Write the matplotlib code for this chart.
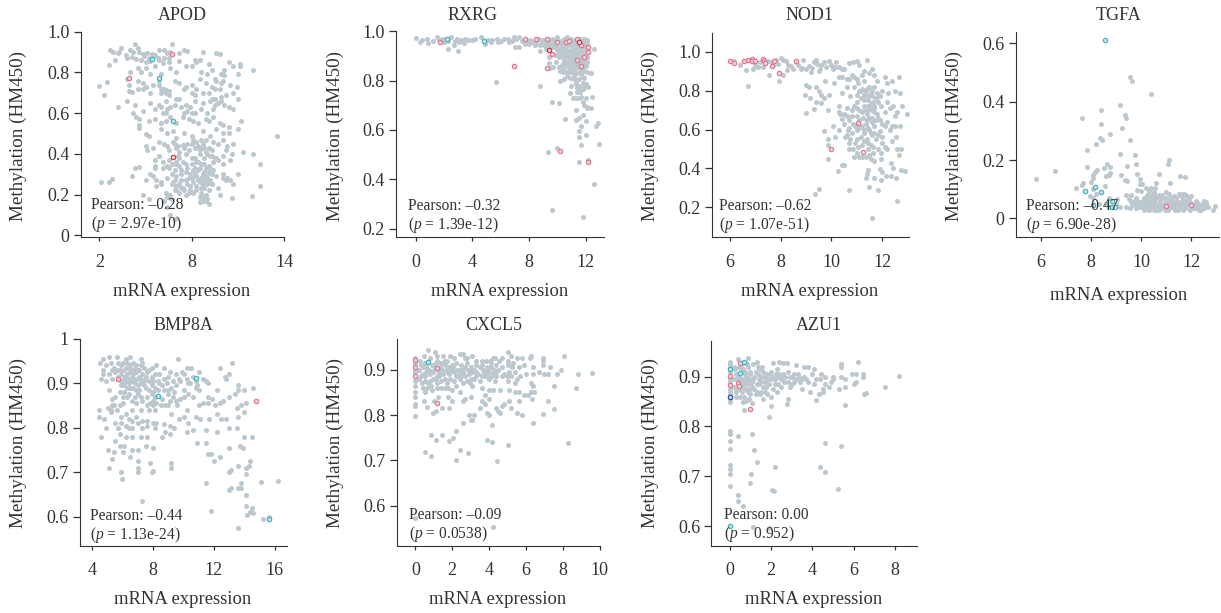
import matplotlib
matplotlib.use("Agg")
import matplotlib.pyplot as plt

plt.rcParams['font.family'] = ['Liberation Serif', 'DejaVu Serif']
plt.rcParams['mathtext.fontset'] = 'custom'
plt.rcParams['mathtext.rm'] = 'Liberation Serif'
plt.rcParams['mathtext.it'] = 'Liberation Serif:italic'

GRAY = '#bcc7ce'
PINK = '#e9708c'
CYAN = '#2fb6c4'
RED = '#e3202e'
NAVY = '#1f4796'
INK = '#333333'

# values
apod_gray = [(4.3,.94),(6.7,.94),(3.4,.92),(3.3,.90),(2.7,.91),(2.9,.90),(3.2,.895),(3.7,.885),(4.0,.91),(4.5,.92),(4.2,.90),(4.6,.90),(4.8,.89),(5.1,.895),(5.4,.89),(5.6,.885),(5.9,.91),(6.2,.91),(6.4,.895),(6.5,.87),(7.2,.895),(7.5,.91),(7.7,.905),(8.7,.90),(9.6,.895),(9.8,.89),
(3.0,.86),(3.8,.87),(4.4,.865),(4.7,.86),(5.0,.85),(5.3,.855),(5.9,.86),(6.1,.845),(6.5,.85),(7.2,.855),(8.2,.86),(8.5,.86),(2.6,.835),(4.0,.80),(4.5,.82),(4.7,.80),(5.0,.82),(5.3,.79),(5.6,.83),(6.0,.79),(6.6,.82),(7.0,.80),(7.6,.83),(8.0,.83),(8.3,.85),(8.6,.80),(9.1,.84),(9.3,.81),(9.9,.79),(10.1,.81),(10.4,.85),(10.7,.83),(11.1,.84),(11.1,.83),(12.0,.81),(11.0,.79),(10.1,.785),(9.5,.77),(9.0,.79),
(2.5,.755),(2.0,.735),(3.8,.77),(3.9,.74),(4.5,.76),(4.8,.75),(5.0,.73),(5.5,.74),(5.9,.76),(6.2,.72),(6.5,.71),(6.9,.76),(7.2,.75),(7.6,.73),(8.0,.74),(8.5,.77),(8.9,.75),(9.3,.73),(9.6,.76),(10.0,.76),(10.5,.74),(10.9,.73),(2.3,.69),(3.9,.71),(4.1,.705),(4.5,.72),(4.8,.72),(5.3,.70),(6.0,.70),(6.3,.715),(6.5,.69),(7.5,.72),(8.0,.70),(8.2,.69),(8.7,.70),(9.1,.70),(9.5,.67),(9.9,.68),(10.2,.69),(10.7,.70),(11.0,.67),
(3.2,.63),(3.8,.66),(4.3,.64),(4.8,.61),(5.3,.65),(5.6,.62),(6.0,.63),(6.3,.66),(6.6,.63),(6.9,.64),(7.3,.63),(7.6,.64),(7.9,.63),(8.2,.60),(8.6,.62),(9.2,.66),(9.5,.64),(9.9,.66),(10.1,.64),(10.4,.63),(10.7,.62),
(4.2,.60),(4.4,.58),(4.6,.57),(5.2,.56),(5.6,.57),(6.0,.55),(6.3,.56),(6.6,.58),(7.0,.55),(7.4,.58),(7.8,.57),(8.1,.56),(8.4,.55),(8.9,.57),(9.1,.56),(9.4,.58),(9.8,.55),(10.0,.54),(10.4,.53),(11.2,.56),(11.0,.52),(13.5,.49),(4.6,.54),(4.6,.525),(5.0,.495),(5.2,.49),(6.0,.52),(6.4,.50),(6.8,.51),(7.0,.48),(7.5,.50),(8.0,.49),(8.7,.51),(9.2,.49),(9.6,.52),(10.0,.50),(10.4,.50),
(5.0,.44),(5.1,.42),(5.5,.43),(5.9,.46),(6.2,.45),(6.5,.42),(7.0,.43),(7.2,.41),(7.5,.43),(7.8,.42),(8.0,.45),(8.3,.46),(8.5,.43),(8.7,.45),(8.9,.41),(9.1,.43),(9.4,.46),(9.7,.45),(10.0,.47),(10.3,.44),(10.7,.45),(11.3,.41),(12.0,.40),(10.6,.40),(10.0,.39),(9.6,.38),(9.2,.39),(8.8,.38),(8.5,.40),(8.2,.38),(7.6,.40),(7.2,.38),(6.5,.37),(5.6,.37),(5.9,.39),
(4.3,.33),(4.6,.335),(5.3,.30),(5.6,.34),(5.6,.33),(6.1,.33),(6.4,.34),(6.9,.32),(7.2,.34),(7.6,.35),(8.0,.35),(8.4,.36),(8.8,.35),(9.1,.34),(9.4,.36),(9.7,.37),(10.0,.35),(10.5,.37),(11.0,.30),(12.4,.35),(4.1,.29),(5.0,.27),(5.7,.27),(6.0,.26),(6.4,.28),(6.7,.30),(7.0,.29),(7.3,.30),(7.6,.31),(7.9,.30),(8.2,.30),(8.4,.32),(8.7,.30),(9.0,.29),(9.3,.30),(9.6,.29),(10.0,.28),(10.3,.28),(10.7,.25),(10.5,.27),
(2.1,.26),(2.6,.26),(2.8,.275),(5.7,.24),(6.0,.25),(6.7,.25),(7.0,.24),(7.2,.25),(7.4,.23),(7.7,.25),(7.9,.24),(8.1,.26),(8.3,.24),(8.5,.26),(8.7,.25),(8.9,.27),(9.1,.26),(9.3,.25),(9.7,.23),(12.4,.24),(4.8,.20),(6.3,.21),(6.6,.20),(6.9,.22),(7.2,.21),(7.5,.22),(7.8,.21),(8.1,.21),(8.6,.21),(8.9,.20),(9.1,.22),(9.8,.20),(10.6,.185),(11.9,.195),(5.2,.18),(6.4,.19),(6.7,.18),(6.2,.17),(8.5,.165),(8.9,.17),(9.1,.155),(6.6,.10),(6.4,.14),(6.9,.08)]
apod_dense = [(7.1,.44),(7.4,.445),(7.7,.45),(8.1,.47),(8.4,.44),(8.6,.47),(8.9,.47),(8.2,.43),(8.5,.42),(8.8,.43),(9.0,.40),(9.3,.39),(9.5,.38),(8.0,.38),(8.3,.36),(8.6,.35),(8.9,.33),(9.2,.33),(8.2,.33),(8.5,.33),(8.8,.31),(8.1,.32),(7.7,.33),(7.3,.32),(7.0,.36),(6.7,.35),(8.0,.28),(8.3,.29),(8.6,.28),(8.9,.285),(9.2,.27),(8.4,.27),(8.7,.27),(9.0,.25),(8.6,.23),(8.3,.22),(8.8,.23),(7.9,.22),(7.6,.20),(7.3,.23),(7.0,.22),(8.5,.19),(8.8,.19),(9.0,.18),(8.7,.17),(6.9,.27),(7.3,.27),(7.6,.27),(7.8,.28),(6.1,.36),(6.5,.33),(9.1,.31),(9.4,.32),(7.1,.39),(7.4,.36),
(6.0,.72),(6.2,.71),(6.3,.70),(5.9,.74),(4.9,.88),(5.2,.87),(5.8,.87),(6.2,.87),(6.6,.90),(4.1,.875),(6.4,.62),(6.1,.60),(5.9,.64),(6.3,.60),(7.5,.60),(7.7,.61),(8.0,.60),(9.0,.60),(9.4,.62),(8.3,.72),(9.5,.72),(9.8,.72),(9.9,.75),(7.0,.67),(7.2,.67),(8.2,.66),(8.7,.65),(9.3,.67),(9.7,.65),(6.8,.46),(6.4,.44),(6.9,.45),(10.2,.42),(9.3,.42),(7.0,.35),(6.8,.26),(10.2,.27),(10.0,.30),(5.5,.29)]
apod_marks = [(6.7,.89,PINK),(3.9,.775,PINK),(5.4,.865,CYAN),(5.9,.775,CYAN),(6.8,.56,CYAN),(6.75,.385,RED)]

rxrg_gray = [(0,.972),(.45,.965),(.8,.968),(.85,.952),(1.5,.975),(1.6,.965),(1.85,.968),(2.1,.97),(2.5,.975),(2.75,.962),(2.9,.97),(2.25,.93),(3.0,.922),(2.7,.945),(3.05,.955),(3.4,.952),(3.5,.97),(3.7,.965),(4.0,.965),(4.2,.97),(4.6,.975),(4.85,.95),(5.1,.965),(5.4,.965),(5.7,.97),(5.8,.955),(6.0,.96),(6.2,.97),(6.5,.97),(6.6,.955),(6.8,.96),(6.9,.975),(7.05,.97),(7.3,.975),(7.0,.935),(7.3,.935),(7.5,.96),(7.9,.96),(8.0,.95),(8.2,.955),(8.4,.945),(8.7,.97),(8.9,.955),(9.1,.94),(9.4,.955),(9.6,.97),(9.8,.965),(10.0,.975),(10.2,.96),(10.5,.97),(10.7,.975),(11.0,.97),(11.2,.96),(11.6,.97),(11.9,.97),(12.1,.965),(8.75,.92),(9.2,.93),(9.7,.935),(9.9,.94),(10.2,.935),(10.4,.945),(10.6,.94),(10.9,.945),(11.1,.94),(11.3,.95),(11.6,.94),(11.9,.945),(12.1,.94),(12.6,.93),(9.4,.895),(9.9,.905),(10.2,.91),(10.5,.915),(10.7,.92),(10.9,.925),(11.1,.925),(11.3,.92),(11.5,.92),(11.7,.92),(11.9,.925),(12.0,.915),(10.4,.895),(10.7,.895),(10.9,.9),(11.1,.9),(11.3,.9),(11.6,.9),(11.8,.91),(12.1,.895),(9.4,.872),(9.9,.875),(9.7,.855),(10.3,.865),(10.5,.865),(10.7,.875),(10.9,.87),(11.1,.875),(11.3,.87),(11.6,.875),(11.9,.87),(12.1,.875),(12.0,.86),(10.5,.85),(10.8,.855),(11.0,.85),(11.3,.85),(11.5,.855),(10.2,.84),(10.4,.835),(10.7,.835),(10.9,.835),(11.1,.84),(11.4,.83),(11.7,.825),(11.9,.84),(12.1,.835),(12.35,.83),(10.5,.805),(10.9,.81),(11.2,.805),(11.35,.8),(11.5,.805),(11.8,.815),(11.9,.81),(5.65,.793),(8.75,.777),(11.3,.785),(11.5,.78),(11.8,.79),(11.9,.775),(12.0,.785),(12.2,.775),(11.4,.77),(11.6,.77),(11.8,.765),(10.9,.75),(11.6,.755),(11.1,.728),(11.3,.728),(11.5,.73),(11.7,.735),(12.0,.73),(12.45,.735),(9.6,.713),(10.1,.708),(11.8,.712),(11.9,.7),(12.1,.695),(12.1,.69),(12.35,.69),(11.35,.683),(10.55,.645),(11.3,.642),(11.55,.647),(12.0,.638),(11.85,.66),(12.7,.615),(12.9,.628),(11.7,.615),(11.5,.597),(11.5,.572),(12.0,.578),(11.7,.54),(12.95,.545),(10.0,.526),(9.35,.51),(11.5,.47),(12.2,.48),(12.6,.383),(9.65,.277),(11.85,.246)]
rxrg_dense = [(.3,.955),(1.2,.96),(1.95,.955),(2.3,.96),(3.2,.965),(5.3,.955),(7.7,.95),(8.1,.965),(8.5,.955),(8.8,.945),(9.0,.965),(9.2,.95),(9.5,.94),(9.7,.95),(10.0,.955),(10.3,.95),(10.5,.955),(10.7,.955),(10.9,.96),(11.1,.955),(11.3,.965),(11.5,.955),(11.7,.955),(11.9,.96),(12.1,.955),(10.0,.925),(10.2,.92),(10.4,.925),(10.6,.925),(10.8,.915),(11.0,.915),(11.2,.935),(11.4,.935),(11.6,.93),(11.8,.935),(12.0,.93),(10.1,.895),(10.3,.905),(10.5,.905),(10.7,.905),(10.9,.91),(11.1,.91),(11.3,.91),(11.5,.905),(11.7,.905),(11.9,.9),(10.5,.88),(10.8,.885),(11.0,.885),(11.2,.885),(11.5,.885),(11.7,.885),(11.9,.885),(10.8,.865),(11.0,.862),(11.3,.86),(11.5,.865),(11.8,.855),(9.5,.85),(10.1,.855),(10.9,.845),(11.2,.825),(11.2,.815),(11.7,.84),(10.7,.82),(10.2,.8),(11.0,.78),(11.4,.755)]
rxrg_marks = [(1.7,.955,PINK),(6.9,.86,PINK),(7.7,.97,PINK),(8.5,.97,PINK),(9.3,.97,PINK),(9.3,.85,PINK),(9.6,.91,PINK),(10.0,.955,PINK),(10.6,.955,PINK),(10.8,.96,PINK),(11.4,.97,PINK),(11.4,.885,PINK),(11.7,.945,PINK),(11.9,.895,PINK),(11.7,.86,PINK),(12.2,.935,PINK),(12.2,.915,PINK),(10.2,.515,PINK),(12.2,.47,PINK),(2.2,.968,CYAN),(4.8,.962,CYAN),(9.4,.925,RED),(11.5,.955,RED)]

nod1_gray = [(6.15,.955),(6.4,.93),(6.65,.905),(6.7,.825),(6.9,.91),(7.0,.93),(7.1,.92),(7.2,.945),(7.5,.955),(7.6,.945),(7.55,.88),(7.8,.96),(7.9,.935),(7.95,.85),(8.0,.97),(8.1,.96),(8.1,.88),(8.2,.95),(8.25,.905),(8.4,.925),(8.5,.91),(8.7,.93),(8.8,.91),(8.9,.96),(9.0,.91),(9.1,.925),(9.2,.895),(9.3,.945),(9.4,.96),(9.45,.935),(9.5,.9),(9.6,.93),(9.8,.92),(9.9,.95),(10.0,.93),(10.05,.91),(10.2,.945),(10.3,.92),(10.4,.87),(10.5,.91),(10.7,.94),(10.85,.945),(11.0,.95),(11.1,.93),(11.3,.9),(11.4,.96),(9.0,.83),(9.1,.82),(8.95,.78),(9.15,.76),(9.4,.82),(9.5,.8),(9.6,.78),(9.75,.85),(9.9,.78),(10.1,.84),(10.3,.87),(10.4,.79),(10.6,.82),(10.7,.86),(10.8,.88),(10.9,.82),(11.0,.86),(11.2,.88),(11.5,.89),(11.6,.91),(11.7,.88),(11.8,.85),(12.1,.87),(12.2,.84),(12.4,.85),(12.65,.87),(12.7,.79),(12.5,.8),(12.25,.79),(12.0,.8),(9.0,.685),(9.3,.705),(9.4,.74),(9.6,.735),(9.7,.76),(9.85,.7),(10.05,.62),(10.3,.72),(10.35,.68),(10.4,.655),(10.6,.71),(10.7,.65),(10.75,.77),(10.9,.72),(11.0,.78),(11.1,.7),(11.15,.8),(11.25,.76),(11.3,.72),(11.35,.8),(11.4,.68),(11.45,.75),(11.5,.71),(11.55,.79),(11.6,.66),(11.65,.74),(11.7,.69),(11.8,.79),(11.85,.66),(11.95,.72),(12.0,.63),(12.1,.69),(12.2,.74),(12.3,.71),(12.45,.72),(12.5,.67),(12.6,.69),(12.7,.62),(12.8,.72),(13.0,.68),(9.7,.59),(9.85,.55),(9.85,.52),(10.15,.56),(10.3,.6),(10.5,.63),(10.55,.56),(10.65,.6),(10.7,.53),(10.8,.58),(10.85,.5),(10.95,.62),(11.0,.55),(11.1,.61),(11.2,.52),(11.3,.58),(11.35,.63),(11.4,.55),(11.5,.6),(11.55,.52),(11.6,.57),(11.7,.62),(11.75,.55),(11.85,.5),(11.9,.59),(12.0,.56),(12.1,.51),(12.3,.6),(12.4,.54),(12.5,.62),(12.55,.56),(12.6,.5),(12.75,.5),(12.65,.47),(9.85,.45),(10.25,.385),(10.4,.42),(10.5,.42),(10.9,.46),(11.1,.46),(11.2,.46),(11.35,.46),(11.5,.47),(11.55,.45),(11.65,.48),(11.7,.44),(11.95,.45),(12.35,.43),(12.45,.4),(12.75,.39),(12.9,.385),(11.45,.39),(11.4,.37),(11.35,.35),(11.9,.395),(12.0,.38),(12.15,.36),(12.35,.36),(12.55,.35),(11.7,.35),(11.95,.34),(11.5,.305),(11.85,.29),(10.7,.29),(9.5,.295),(9.35,.27),(12.6,.235),(11.6,.145)]
nod1_dense = [(7.3,.92),(7.7,.93),(8.3,.93),(8.6,.945),(8.85,.915),(9.25,.915),(9.55,.91),(9.7,.945),(10.15,.92),(10.4,.91),(10.6,.86),(10.9,.87),(11.05,.84),(11.3,.85),(11.1,.8),(11.2,.81),(11.4,.81),(11.5,.82),(11.6,.8),(11.7,.82),(11.3,.78),(11.45,.77),(11.6,.77),(11.75,.76),(11.9,.77),(11.0,.74),(11.15,.76),(11.3,.75),(11.45,.72),(11.55,.73),(11.7,.72),(11.85,.74),(10.8,.7),(11.0,.71),(11.2,.69),(11.3,.7),(11.45,.7),(11.6,.7),(11.7,.71),(11.8,.68),(10.3,.69),(10.5,.68),(10.6,.67),(10.8,.67),(11.0,.67),(11.1,.65),(11.25,.66),(11.4,.65),(11.5,.66),(11.6,.64),(11.75,.65),(11.9,.65),(12.1,.62),(12.2,.64),(12.4,.62),(10.7,.61),(10.85,.63),(11.0,.6),(11.2,.62),(11.3,.6),(11.45,.61),(11.55,.58),(11.7,.58),(11.85,.57),(10.6,.57),(10.75,.55),(10.95,.53),(11.05,.51),(11.15,.56),(11.3,.54),(11.45,.53),(11.65,.51),(12.0,.53),(12.2,.5),(10.7,.5),(11.0,.48),(11.45,.5),(11.95,.48)]
nod1_marks = [(6.0,.955,PINK),(6.15,.94,PINK),(6.55,.955,PINK),(6.7,.96,PINK),(6.85,.965,PINK),(6.85,.955,PINK),(7.0,.955,PINK),(7.3,.965,PINK),(7.35,.955,PINK),(7.4,.94,PINK),(7.65,.925,PINK),(7.75,.95,PINK),(7.95,.89,PINK),(8.6,.955,PINK),(11.05,.635,PINK),(11.25,.485,PINK),(10.0,.50,PINK)]

tgfa_gray = [(9.55,.485),(9.65,.47),(10.4,.427),(9.15,.388),(8.4,.37),(9.35,.355),(9.4,.345),(7.65,.345),(8.4,.322),(9.25,.31),(8.75,.29),(8.35,.275),(8.45,.27),(9.55,.27),(8.2,.255),(7.85,.235),(9.15,.22),(9.75,.216),(11.1,.2),(9.8,.188),(11.05,.185),(8.65,.188),(9.45,.18),(7.85,.175),(8.75,.175),(8.5,.172),(6.55,.162),(5.8,.135),(8.15,.16),(8.25,.165),(8.7,.15),(8.75,.155),(9.2,.15),(9.85,.152),(10.7,.153),(8.1,.148),(8.6,.145),(11.55,.144),(11.75,.142),(8.1,.14),(9.35,.132),(9.45,.128),(9.95,.135),(8.0,.125),(7.65,.115),(7.7,.12),(9.95,.118),(10.05,.118),(10.6,.12),(11.15,.12),(7.4,.105),(8.1,.1),(8.55,.11),(10.2,.105),(10.4,.105),(10.55,.105),(9.85,.098),(10.0,.095),(10.3,.095),(8.2,.085),(10.5,.09),(10.7,.08),(11.0,.09),(11.1,.085),(11.5,.085),(11.7,.085),(11.8,.08),(7.95,.075),(8.1,.07),(8.7,.07),(9.05,.065),(9.4,.08),(9.6,.08),(9.8,.07),(10.1,.07),(10.3,.07),(10.4,.08),(10.9,.07),(11.3,.075),(11.6,.075),(11.9,.07),(12.0,.075),(12.2,.06),(12.5,.06),(12.6,.055),(8.3,.05),(8.6,.05),(9.0,.05),(9.5,.065),(9.6,.055),(9.75,.05),(9.9,.05),(10.0,.055),(10.2,.055),(10.35,.05),(10.5,.06),(10.6,.05),(10.75,.06),(10.9,.05),(11.1,.06),(11.25,.055),(11.4,.06),(11.55,.055),(11.75,.06),(11.95,.055),(12.1,.05),(12.3,.05),(12.45,.05),(12.6,.045),(8.75,.04),(9.15,.04),(9.65,.045),(9.8,.035),(10.05,.04),(10.2,.035),(10.35,.04),(10.5,.03),(10.65,.04),(10.8,.035),(10.95,.03),(11.2,.04),(11.35,.03),(11.5,.04),(11.65,.03),(11.8,.04),(11.95,.03),(12.15,.035),(12.3,.03),(12.5,.035),(12.65,.04),(12.85,.03),(12.95,.042),(9.4,.04),(10.1,.03),(10.45,.045),(10.7,.03),(11.05,.03),(11.45,.03),(11.7,.045),(12.05,.035),(12.4,.03)]
tgfa_dense = [(9.7,.06),(9.85,.06),(9.95,.045),(10.1,.05),(10.15,.06),(10.25,.045),(10.4,.06),(10.55,.04),(10.7,.05),(10.85,.04),(11.0,.06),(11.05,.05),(11.15,.05),(11.3,.045),(11.45,.05),(11.6,.05),(11.7,.055),(11.85,.05),(12.0,.045),(12.2,.04),(12.35,.04),(10.3,.06),(10.45,.07),(10.6,.07),(10.8,.065),(11.0,.07),(11.2,.07),(11.4,.07),(11.65,.065),(11.85,.065),(10.25,.08),(10.55,.08),(10.85,.08),(11.6,.085),(9.55,.035),(9.9,.04),(10.3,.03),(10.6,.03),(10.9,.04),(11.1,.035),(11.3,.035),(11.55,.035),(11.75,.035),(12.25,.04),(12.55,.04)]
tgfa_marks = [(8.55,.61,CYAN),(7.75,.093,CYAN),(8.15,.108,CYAN),(8.4,.092,CYAN),(8.1,.047,CYAN),(8.85,.058,CYAN),(8.85,.04,CYAN),(8.95,.04,CYAN),(11.0,.042,PINK),(12.0,.046,PINK)]

bmp8a_gray = [(4.5,.945),(4.7,.955),(5.1,.96),(5.6,.96),(6.5,.96),(6.2,.955),(7.2,.955),(7.25,.945),(9.65,.955),(12.4,.935),(13.2,.945),(4.7,.93),(4.9,.94),(5.2,.945),(5.4,.935),(5.7,.945),(5.9,.94),(6.1,.93),(6.3,.945),(6.5,.94),(6.7,.945),(6.9,.94),(7.1,.93),(7.4,.935),(7.7,.93),(7.9,.935),(8.2,.94),(8.7,.935),(9.1,.925),(9.5,.92),(9.9,.925),(10.2,.935),(10.5,.935),(11.0,.925),(4.6,.91),(4.7,.92),(4.9,.905),(5.1,.92),(5.3,.91),(5.5,.925),(5.9,.92),(6.1,.915),(6.3,.92),(6.5,.925),(6.7,.92),(6.9,.925),(7.1,.915),(7.3,.92),(7.5,.915),(7.7,.905),(7.9,.915),(8.1,.92),(8.4,.92),(8.7,.91),(9.0,.915),(9.3,.905),(9.7,.91),(10.0,.92),(10.3,.9),(10.8,.905),(11.3,.91),(11.5,.905),(12.7,.915),(12.8,.91),(13.0,.92),(6.2,.905),(6.4,.9),(6.6,.905),(6.8,.9),(7.0,.895),(7.2,.9),(7.5,.89),(7.9,.895),(8.1,.89),(8.4,.9),(8.6,.895),(8.9,.9),(9.2,.89),(9.5,.895),(10.0,.885),(10.4,.9),(10.8,.89),(11.0,.885),(11.6,.9),(5.1,.885),(5.9,.895),(5.8,.88),(6.0,.87),(5.5,.87),(5.3,.865),(6.3,.87),(6.6,.86),(7.0,.875),(7.3,.86),(7.9,.875),(8.0,.86),(8.2,.855),(8.6,.865),(9.0,.875),(9.3,.87),(9.5,.86),(10.0,.87),(10.3,.875),(11.6,.87),(11.9,.865),(12.6,.86),(13.0,.87),(13.4,.875),(13.6,.885),(14.0,.885),(14.6,.89),(13.6,.895),(12.2,.885),(5.0,.845),(5.2,.84),(5.4,.85),(5.8,.85),(6.2,.83),(6.6,.84),(7.2,.84),(7.6,.85),(8.0,.85),(9.0,.85),(9.6,.85),(10.2,.84),(11.0,.85),(11.3,.855),(11.6,.855),(12.1,.85),(12.4,.855),(13.5,.845),(13.8,.85),(14.1,.855),(4.45,.84),(4.45,.825),(4.8,.82),(5.2,.835),(5.9,.825),(6.4,.82),(6.6,.815),(7.3,.815),(7.6,.815),(8.2,.81),(8.7,.808),(9.1,.805),(9.4,.8),(9.7,.82),(10.3,.81),(10.8,.825),(11.1,.82),(11.7,.82),(12.2,.83),(12.5,.82),(12.8,.82),(13.6,.825),(14.0,.835),(5.5,.81),(5.9,.81),(6.2,.805),(6.6,.8),(7.0,.81),(7.6,.805),(8.1,.8),(8.8,.79),(9.1,.785),(10.2,.79),(10.6,.795),(11.5,.795),(12.2,.79),(13.0,.8),(13.5,.8),(14.0,.78),(14.5,.78),(4.6,.78),(4.9,.8),(5.8,.785),(6.2,.78),(6.6,.78),(7.2,.78),(7.6,.78),(8.6,.78),(5.0,.75),(5.5,.77),(5.8,.76),(6.1,.76),(6.6,.75),(7.0,.75),(7.5,.76),(8.0,.755),(10.9,.765),(11.5,.765),(13.0,.755),(13.7,.76),(13.9,.755),(5.4,.745),(5.3,.73),(6.0,.745),(6.5,.735),(7.0,.725),(7.8,.72),(9.2,.72),(9.2,.71),(11.6,.74),(11.8,.74),(12.0,.725),(12.4,.735),(13.6,.715),(14.1,.71),(14.4,.725),(14.3,.715),(5.1,.71),(5.9,.7),(5.95,.685),(7.0,.71),(7.0,.7),(7.9,.7),(8.0,.702),(13.0,.7),(13.1,.705),(14.1,.695),(11.5,.675),(13.1,.665),(13.0,.66),(13.6,.665),(13.8,.665),(13.8,.675),(15.1,.678),(16.25,.68),(14.1,.65),(7.3,.636),(14.1,.625),(14.5,.62),(14.2,.605),(14.4,.61),(14.6,.608),(11.8,.612),(15.6,.6),(15.25,.595),(13.6,.575)]
bmp8a_dense = [(5.3,.93),(5.6,.93),(5.8,.93),(6.0,.945),(6.2,.935),(6.4,.935),(6.6,.93),(6.8,.935),(7.0,.93),(7.2,.94),(5.7,.915),(6.0,.905),(6.2,.915),(6.4,.91),(6.6,.915),(6.8,.91),(7.0,.91),(7.2,.91),(7.4,.905),(7.6,.925),(8.0,.905),(8.3,.905),(5.9,.905),(6.1,.895),(6.3,.89),(6.5,.89),(6.7,.89),(6.9,.885),(7.1,.885),(7.4,.895),(7.7,.885),(8.0,.88),(8.3,.885),(8.7,.885),(9.0,.885),(9.4,.88),(9.8,.905),(10.2,.91),(10.6,.915),(10.9,.895),(6.1,.88),(6.4,.875),(6.8,.87),(7.2,.87),(7.6,.87),(8.8,.85),(9.1,.86),(9.8,.865),(10.6,.87),(8.1,.87),(7.8,.855),(7.7,.84),(8.1,.84),(6.9,.855),(6.0,.855),(5.6,.84),(5.3,.85),(8.5,.85),(9.2,.83),(10.0,.825),(6.9,.825),(6.4,.8),(5.7,.8),(7.3,.8),(8.0,.81)]
bmp8a_marks = [(5.7,.91,PINK),(14.8,.86,PINK),(8.3,.872,CYAN),(10.8,.912,CYAN),(15.6,.595,CYAN)]

cxcl5_gray = [(0,.925),(0,.915),(0,.9),(0,.895),(0,.875),(0,.865),(0,.85),(0,.84),(0,.825),(0,.82),(0,.798),(.7,.943),(1.05,.94),(.45,.93),(.8,.925),(1.2,.93),(1.5,.93),(1.7,.92),(1.9,.93),(2.4,.935),(2.6,.935),(3.1,.93),(2.8,.925),(3.6,.92),(4.2,.925),(4.3,.925),(5.0,.94),(5.2,.93),(5.5,.925),(5.8,.925),(6.2,.925),(6.3,.93),(6.9,.925),(6.9,.92),(8.05,.93),(.3,.91),(.5,.915),(.9,.91),(1.1,.915),(1.4,.915),(1.6,.91),(1.8,.905),(2.0,.91),(2.2,.915),(2.5,.91),(2.8,.915),(3.0,.905),(3.3,.91),(3.6,.91),(3.9,.905),(4.1,.915),(4.4,.91),(4.7,.905),(5.0,.91),(5.3,.915),(5.6,.905),(5.9,.91),(6.4,.905),(6.9,.91),(7.3,.905),(.2,.9),(.4,.89),(.6,.895),(.8,.89),(1.0,.9),(1.3,.895),(1.5,.89),(1.8,.89),(2.1,.895),(2.4,.9),(2.6,.895),(2.9,.89),(3.1,.895),(3.4,.89),(3.7,.895),(4.0,.895),(4.2,.89),(4.5,.9),(4.8,.89),(5.1,.895),(5.4,.895),(5.7,.885),(6.0,.89),(6.4,.89),(6.7,.895),(7.0,.89),(7.2,.89),(7.7,.89),(7.9,.9),(8.8,.89),(9.6,.892),(.2,.88),(.5,.875),(.8,.875),(1.1,.88),(1.4,.875),(1.7,.87),(2.1,.875),(2.4,.88),(2.8,.875),(3.2,.88),(3.5,.875),(3.8,.885),(4.0,.88),(4.3,.875),(5.0,.875),(5.4,.87),(6.3,.87),(6.4,.865),(7.5,.865),(8.7,.86),(.4,.86),(.5,.85),(.9,.855),(1.2,.86),(1.6,.86),(2.0,.855),(2.4,.85),(3.1,.865),(3.6,.86),(3.8,.845),(4.0,.855),(4.2,.855),(4.6,.855),(5.1,.855),(5.4,.85),(5.6,.85),(5.9,.845),(6.1,.845),(6.3,.85),(6.45,.85),(.45,.83),(.65,.818),(1.0,.83),(1.25,.84),(1.45,.815),(1.75,.84),(1.8,.815),(2.0,.83),(2.6,.83),(2.7,.835),(3.0,.84),(3.6,.83),(3.8,.825),(4.0,.835),(4.4,.815),(4.7,.82),(4.8,.825),(5.1,.83),(5.6,.83),(6.35,.835),(7.2,.832),(.95,.805),(1.1,.81),(2.9,.8),(3.1,.79),(3.2,.8),(3.5,.815),(3.9,.805),(4.0,.8),(4.5,.81),(4.6,.805),(5.2,.815),(5.5,.805),(5.8,.8),(6.9,.803),(7.5,.813),(2.6,.782),(3.0,.79),(4.15,.778),(6.4,.783),(.85,.755),(1.1,.745),(1.45,.757),(1.8,.743),(2.05,.75),(2.2,.765),(3.9,.746),(4.15,.74),(5.05,.733),(8.3,.738),(.55,.719),(.85,.71),(2.45,.724),(2.85,.717),(2.2,.702),(4.45,.698),(0,.574),(4.2,.553)]
cxcl5_dense = [(.25,.92),(.4,.905),(.6,.905),(.75,.9),(.95,.895),(1.05,.905),(1.2,.885),(1.35,.905),(1.45,.9),(1.65,.9),(1.75,.895),(1.95,.9),(2.05,.905),(2.25,.9),(2.35,.89),(2.55,.9),(2.7,.905),(2.85,.9),(3.0,.9),(3.2,.9),(3.3,.895),(3.5,.905),(3.65,.9),(3.85,.895),(3.95,.9),(4.1,.905),(4.25,.9),(4.35,.895),(4.55,.92),(.3,.885),(.55,.885),(.7,.87),(.95,.88),(1.15,.87),(1.3,.885),(1.6,.88),(1.9,.88),(2.2,.885),(2.5,.885),(2.7,.885),(3.0,.88),(3.3,.885),(3.6,.885),(3.9,.885),(4.15,.885),(4.35,.885),(4.7,.885),(4.95,.885),(5.2,.885),(5.5,.88),(.35,.87),(.65,.86),(.85,.865),(1.4,.86),(1.75,.86),(2.2,.865),(2.6,.87),(2.95,.87),(1.15,.92),(1.6,.92),(2.1,.925),(2.7,.925),(3.3,.92),(3.85,.92),(4.05,.92),(4.7,.925),(5.05,.92),(5.25,.905)]
cxcl5_marks = [(0,.922,PINK),(0,.906,PINK),(0,.886,PINK),(1.2,.904,PINK),(1.15,.826,PINK),(.7,.916,CYAN)]

azu1_gray = [(0,.93),(0,.925),(0,.92),(0,.91),(0,.895),(0,.89),(0,.875),(0,.87),(0,.865),(0,.855),(0,.85),(.4,.935),(.9,.938),(.45,.92),(.6,.925),(.3,.905),(.55,.91),(.75,.91),(.9,.92),(1.15,.925),(1.3,.93),(1.45,.915),(2.4,.93),(2.1,.928),(2.6,.928),(2.75,.927),(3.2,.923),(3.6,.92),(3.8,.92),(4.1,.915),(5.4,.925),(5.4,.92),(6.2,.93),(.2,.895),(.35,.895),(.6,.895),(.8,.9),(1.0,.905),(1.2,.9),(1.4,.895),(1.6,.91),(1.8,.905),(2.0,.91),(2.3,.915),(2.6,.905),(2.8,.91),(3.1,.905),(3.3,.905),(3.6,.9),(4.0,.905),(4.4,.905),(4.6,.9),(5.0,.9),(5.4,.9),(5.0,.895),(5.9,.905),(6.1,.905),(6.45,.905),(6.45,.9),(8.2,.902),(.2,.88),(.6,.88),(.7,.885),(.9,.885),(1.1,.88),(1.3,.885),(1.5,.89),(1.7,.89),(2.0,.895),(2.2,.895),(2.5,.895),(2.8,.89),(3.0,.885),(3.4,.89),(3.8,.89),(4.1,.885),(4.6,.885),(4.8,.88),(5.6,.895),(6.0,.885),(6.1,.89),(.3,.86),(.6,.87),(.9,.87),(1.2,.875),(1.5,.87),(1.7,.87),(2.1,.875),(2.5,.88),(2.9,.88),(3.5,.875),(3.9,.87),(4.5,.875),(4.3,.865),(4.5,.87),(5.3,.875),(5.6,.88),(6.5,.866),(6.6,.868),(7.5,.88),(.65,.85),(.8,.852),(1.1,.848),(1.0,.865),(1.6,.855),(2.0,.86),(2.3,.87),(2.8,.855),(2.75,.845),(4.2,.854),(5.6,.844),(2.0,.842),(.7,.833),(1.9,.82),(0,.79),(0,.785),(.4,.78),(1.1,.784),(0,.77),(0,.755),(1.2,.753),(4.6,.766),(5.4,.76),(0,.722),(0,.715),(0,.705),(1.3,.728),(1.05,.705),(2.2,.719),(4.35,.719),(4.6,.708),(1.0,.687),(0,.68),(2.05,.673),(2.15,.67),(5.25,.674),(.4,.663),(.4,.651),(.65,.64),(1.15,.598),(1.9,.597)]
azu1_dense = [(.25,.915),(.45,.9),(.5,.89),(.7,.895),(.75,.905),(.85,.89),(.95,.895),(1.05,.89),(1.15,.895),(1.25,.91),(1.35,.905),(1.5,.9),(1.65,.9),(1.75,.895),(1.85,.895),(1.95,.905),(2.1,.9),(2.25,.905),(2.4,.905),(2.5,.9),(2.7,.9),(2.9,.9),(3.0,.9),(3.2,.895),(3.35,.9),(3.5,.895),(3.7,.895),(.3,.875),(.45,.875),(.8,.875),(1.0,.875),(1.1,.89),(1.3,.87),(1.4,.885),(1.6,.88),(1.75,.88),(1.9,.885),(2.2,.885),(2.35,.885),(2.65,.89),(3.1,.89),(.5,.86),(.7,.86),(.95,.855),(1.25,.865),(1.45,.865),(1.8,.865),(2.35,.9),(1.55,.92),(1.0,.91),(1.35,.92),(.65,.915),(.3,.87),(.2,.92),(.85,.925),(4.2,.895),(4.35,.895),(4.9,.89)]
azu1_marks = [(0,.901,PINK),(0,.883,PINK),(.5,.927,PINK),(.4,.888,PINK),(.45,.881,PINK),(1.0,.835,PINK),(0,.916,CYAN),(.7,.929,CYAN),(.5,.907,CYAN),(0,.6,CYAN),(0,.86,NAVY)]

# gene, points, highlighted, xlim, ylim, xticks, yticks, ytick labels, pearson, p
panels = [
    ('APOD', apod_gray + apod_dense, apod_marks, (.79, 14), (-.01, 1), [2, 8, 14], [0, .2, .4, .6, .8, 1], ['0', '0.2', '0.4', '0.6', '0.8', '1.0'], '–0.28', '2.97e-10'),
    ('RXRG', rxrg_gray + rxrg_dense, rxrg_marks, (-1.41, 13.3), (.165, 1), [0, 4, 8, 12], [.2, .4, .6, .8, 1], ['0.2', '0.4', '0.6', '0.8', '1.0'], '–0.32', '1.39e-12'),
    ('NOD1', nod1_gray + nod1_dense, nod1_marks, (5.28, 13.05), (.046, 1.098), [6, 8, 10, 12], [.2, .4, .6, .8, 1], ['0.2', '0.4', '0.6', '0.8', '1.0'], '–0.62', '1.07e-51'),
    ('TGFA', tgfa_gray + tgfa_dense, tgfa_marks, (5.0, 13.09), (-.065, .638), [6, 8, 10, 12], [0, .2, .4, .6], ['0', '0.2', '0.4', '0.6'], '–0.47', '6.90e-28'),
    ('BMP8A', bmp8a_gray + bmp8a_dense, bmp8a_marks, (3.17, 16.79), (.535, 1), [4, 8, 12, 16], [.6, .7, .8, .9, 1], ['0.6', '0.7', '0.8', '0.9', '1'], '–0.44', '1.13e-24'),
    ('CXCL5', cxcl5_gray + cxcl5_dense, cxcl5_marks, (-1.01, 10), (.512, .967), [0, 2, 4, 6, 8, 10], [.6, .7, .8, .9], ['0.6', '0.7', '0.8', '0.9'], '–0.09', '0.0538'),
    ('AZU1', azu1_gray + azu1_dense, azu1_marks, (-.89, 9.08), (.561, .972), [0, 2, 4, 6, 8], [.6, .7, .8, .9], ['0.6', '0.7', '0.8', '0.9'], '0.00', '0.952'),
]

W, H = 1221, 613
# left, right, top, bottom of each axes, in pixels
boxes = [(80.7, 284.3, 31.7, 237.3), (396, 604, 31.3, 237.3), (711.7, 908.7, 32.7, 237.3), (1015.7, 1218.7, 32.3, 237.3),
         (79.7, 286.7, 338.7, 545.7), (396.7, 599.7, 339.3, 545.7), (711.3, 917.3, 340.7, 545.7)]
title_x = [182, 472.7, 810, 1118.7, 183, 493.7, 818.7]
xlabel_x = [182, 500, 810, 1118.7, 183, 498, 814]
xlabel_y = [291, 292, 292, 296, 599, 599, 599]
ylabel_x = [18, 335, 650, 954, 18, 335, 650]
text_x = [91, 407.5, 719, 1026, 90, 409, 723.5]
text_y = [205, 206, 206, 206, 516, 515, 515]

fig = plt.figure(figsize=(W / 100, H / 100), dpi=100)

for i, (gene, pts, marks, xl, yl, xt, yt, ytl, r, p) in enumerate(panels):
    l, rt, t, b = boxes[i]
    ax = fig.add_axes([l / W, 1 - b / H, (rt - l) / W, (b - t) / H])
    ax.scatter([q[0] for q in pts], [q[1] for q in pts], s=13, color=GRAY, linewidths=0, clip_on=False, zorder=2)
    for mx, my, c in marks:
        ax.plot(mx, my, 'o', ms=3.2, mfc='#d5dadd', mec=c, mew=.8, clip_on=False, zorder=3)
    ax.set_xlim(xl)
    ax.set_ylim(yl)
    ax.set_xticks(xt)
    ax.set_yticks(yt)
    ax.set_yticklabels(ytl)
    ax.spines['top'].set_visible(False)
    ax.spines['right'].set_visible(False)
    ax.spines['left'].set_color(INK)
    ax.spines['bottom'].set_color(INK)
    ax.tick_params(axis='x', length=3, width=.9, color=INK, labelcolor=INK, labelsize=13, pad=9)
    ax.tick_params(axis='y', length=5, width=.9, color=INK, labelcolor=INK, labelsize=13, pad=3)
    ax.patch.set_alpha(0)

    top = 1 - (16 if i < 4 else 325) / H
    fig.text(title_x[i] / W, top, gene, ha='center', va='center', fontsize=13, color=INK)
    fig.text(xlabel_x[i] / W, 1 - xlabel_y[i] / H, 'mRNA expression', ha='center', va='center', fontsize=13.4, color=INK)
    fig.text(ylabel_x[i] / W, 1 - (136 if i < 4 else 443) / H, 'Methylation (HM450)', rotation=90, ha='center', va='center', fontsize=13.8, color=INK)
    fig.text(text_x[i] / W, 1 - text_y[i] / H, 'Pearson: ' + r, ha='left', va='center', fontsize=11.2, color=INK, zorder=5)
    fig.text(text_x[i] / W, 1 - (text_y[i] + 19) / H, r'($\mathit{p}$ = ' + p + ')', ha='left', va='center', fontsize=11.2, color=INK, zorder=5)

fig.savefig('out.png', dpi=100)
